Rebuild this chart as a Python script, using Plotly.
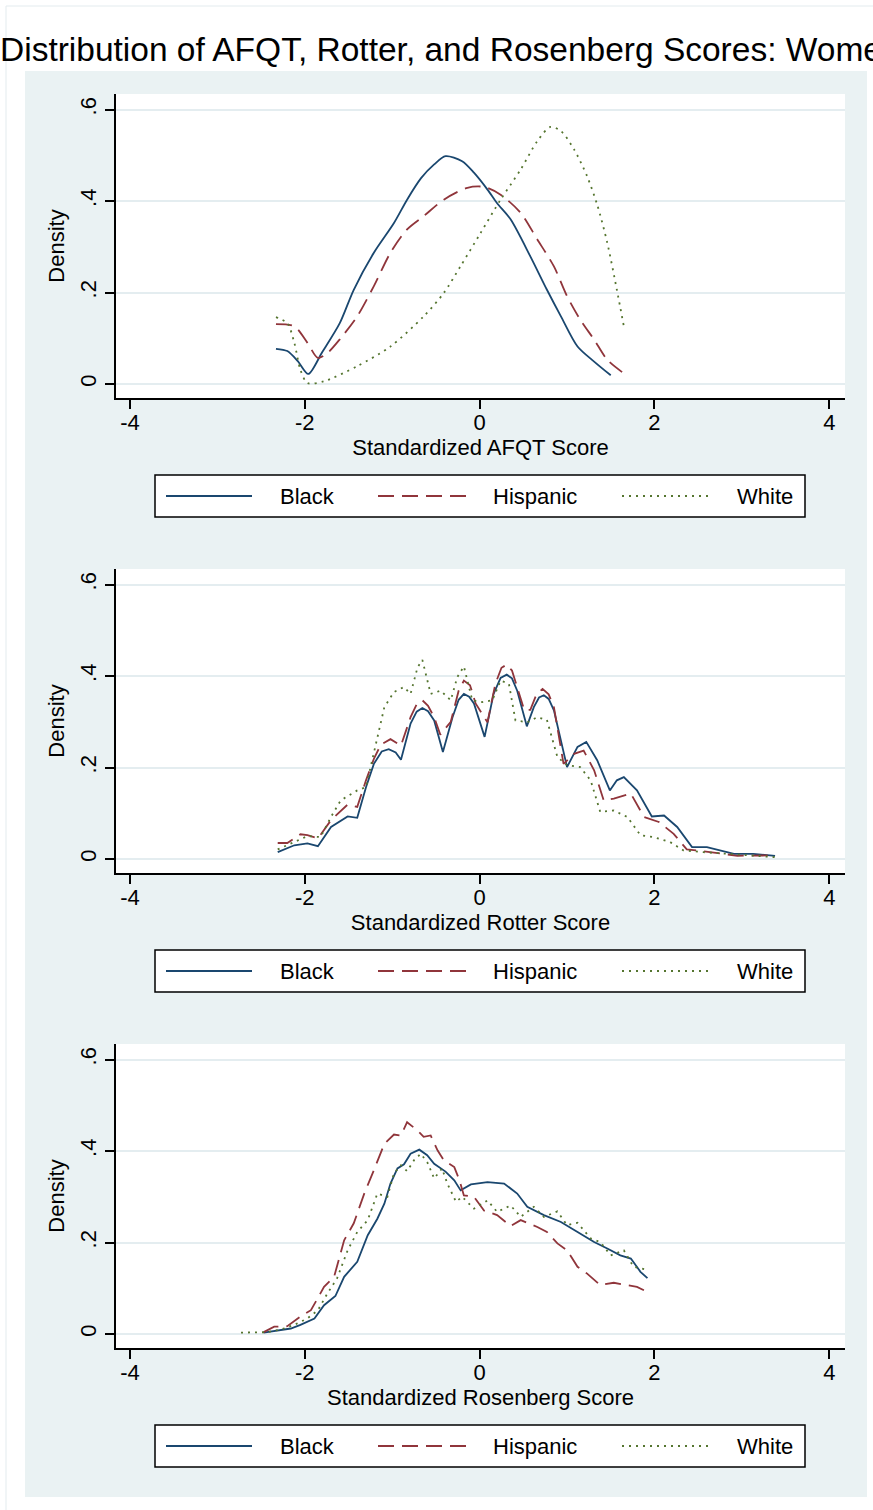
import plotly.graph_objects as go

W, H = 873, 1510

# ---------------- data ----------------
afqt_black_x = [-2.33, -2.2, -2.08, -1.96, -1.8, -1.6, -1.44, -1.21, -0.98, -0.83, -0.67, -0.52, -0.39,
                -0.2, -0.065, 0.09, 0.2, 0.354, 0.58, 0.77, 0.93, 1.12, 1.31, 1.5]
afqt_black_y = [0.077, 0.072, 0.05, 0.022, 0.07, 0.133, 0.206, 0.287, 0.352, 0.403, 0.45, 0.48, 0.498,
                0.487, 0.462, 0.425, 0.395, 0.36, 0.279, 0.206, 0.148, 0.082, 0.049, 0.019]
afqt_hisp_x = [-2.33, -2.12, -1.97, -1.85, -1.74, -1.59, -1.4, -1.21, -1.02, -0.83, -0.64, -0.41, -0.14,
               0.05, 0.24, 0.47, 0.66, 0.85, 1.0, 1.15, 1.31, 1.46, 1.63]
afqt_hisp_y = [0.131, 0.126, 0.09, 0.057, 0.068, 0.1, 0.148, 0.214, 0.287, 0.338, 0.367, 0.403, 0.429,
               0.431, 0.414, 0.374, 0.316, 0.257, 0.192, 0.141, 0.097, 0.053, 0.026]
afqt_white_x = [-2.33, -2.2, -2.12, -2.05, -1.97, -1.78, -1.4, -1.02, -0.64, -0.41, -0.22, 0.01, 0.24,
                0.47, 0.66, 0.81, 0.93, 1.08, 1.23, 1.35, 1.46, 1.57, 1.65]
afqt_white_y = [0.146, 0.133, 0.09, 0.031, 0.002, 0.006, 0.039, 0.082, 0.148, 0.199, 0.257, 0.33, 0.403,
                0.469, 0.531, 0.562, 0.553, 0.513, 0.454, 0.389, 0.309, 0.206, 0.126]

rotter_black_x = [-2.31, -2.12, -1.97, -1.85, -1.70, -1.51, -1.40, -1.30, -1.21, -1.12, -1.04, -0.96,
                  -0.90, -0.79, -0.72, -0.655, -0.59, -0.52, -0.42, -0.31, -0.24, -0.18, -0.12, -0.065,
                  0.057, 0.16, 0.24, 0.31, 0.37, 0.43, 0.54, 0.62, 0.68, 0.735, 0.79, 0.85, 1.0, 1.12,
                  1.22, 1.345, 1.49, 1.57, 1.65, 1.80, 1.97, 2.11, 2.26, 2.43, 2.60, 2.75, 2.91, 3.13,
                  3.38]
rotter_black_y = [0.015, 0.03, 0.034, 0.028, 0.07, 0.093, 0.09, 0.157, 0.208, 0.235, 0.24, 0.233,
                  0.217, 0.296, 0.322, 0.33, 0.323, 0.303, 0.234, 0.31, 0.348, 0.361, 0.355, 0.34,
                  0.267, 0.361, 0.396, 0.403, 0.395, 0.368, 0.29, 0.332, 0.353, 0.358, 0.35, 0.325,
                  0.201, 0.245, 0.256, 0.216, 0.15, 0.172, 0.179, 0.15, 0.093, 0.095, 0.07, 0.026,
                  0.026, 0.019, 0.011, 0.011, 0.007]
rotter_hisp_x = [-2.31, -2.2, -2.05, -1.97, -1.85, -1.70, -1.51, -1.40, -1.30, -1.21, -1.13, -1.02,
                 -0.90, -0.79, -0.72, -0.655, -0.59, -0.52, -0.45, -0.33, -0.24, -0.18, -0.11, -0.046,
                 0.09, 0.18, 0.25, 0.31, 0.37, 0.43, 0.51, 0.58, 0.65, 0.72, 0.79, 0.85, 0.96, 1.08,
                 1.19, 1.31, 1.42, 1.535, 1.73, 1.88, 2.05, 2.22, 2.37, 2.56, 2.75, 2.95, 3.38]
rotter_hisp_y = [0.035, 0.035, 0.054, 0.052, 0.045, 0.085, 0.119, 0.114, 0.172, 0.219, 0.25, 0.262,
                 0.248, 0.31, 0.338, 0.347, 0.335, 0.31, 0.272, 0.30, 0.368, 0.39, 0.38, 0.34,
                 0.299, 0.383, 0.418, 0.425, 0.412, 0.376, 0.326, 0.326, 0.36, 0.372, 0.36, 0.332,
                 0.208, 0.23, 0.237, 0.194, 0.128, 0.132, 0.143, 0.092, 0.081, 0.055, 0.021, 0.017,
                 0.012, 0.007, 0.008]
rotter_white_x = [-2.31, -2.12, -1.97, -1.82, -1.70, -1.59, -1.40, -1.30, -1.21, -1.09, -0.98, -0.865,
                  -0.79, -0.71, -0.655, -0.56, -0.446, -0.33, -0.255, -0.18, -0.084, 0.03, 0.145, 0.24,
                  0.335, 0.41, 0.545, 0.66, 0.77, 0.89, 1.0, 1.15, 1.27, 1.38, 1.535, 1.69, 1.84, 1.99,
                  2.18, 2.33, 2.56, 2.83, 3.13, 3.38]
rotter_white_y = [0.021, 0.037, 0.05, 0.048, 0.092, 0.128, 0.15, 0.157, 0.23, 0.332, 0.365, 0.376,
                  0.361, 0.419, 0.435, 0.361, 0.368, 0.347, 0.398, 0.421, 0.347, 0.343, 0.347, 0.39,
                  0.383, 0.303, 0.299, 0.31, 0.304, 0.223, 0.205, 0.201, 0.172, 0.103, 0.106, 0.092,
                  0.052, 0.048, 0.037, 0.019, 0.015, 0.011, 0.007, 0.004]

rosen_black_x = [-2.47, -2.35, -2.16, -2.05, -1.89, -1.78, -1.65, -1.55, -1.40, -1.28, -1.17, -1.09,
                 -1.02, -0.94, -0.865, -0.79, -0.69, -0.60, -0.52, -0.39, -0.29, -0.217, -0.10, 0.09,
                 0.28, 0.43, 0.545, 0.735, 0.93, 1.12, 1.31, 1.46, 1.61, 1.73, 1.84, 1.92]
rosen_black_y = [0.003, 0.007, 0.012, 0.02, 0.034, 0.063, 0.083, 0.125, 0.158, 0.216, 0.252, 0.285,
                 0.329, 0.362, 0.371, 0.394, 0.403, 0.391, 0.372, 0.355, 0.336, 0.314, 0.327, 0.332,
                 0.329, 0.307, 0.278, 0.26, 0.245, 0.223, 0.201, 0.187, 0.172, 0.165, 0.136, 0.122]
rosen_hisp_x = [-2.47, -2.35, -2.2, -2.05, -1.93, -1.78, -1.665, -1.55, -1.44, -1.32, -1.21, -1.09,
                -0.98, -0.90, -0.83, -0.71, -0.64, -0.56, -0.48, -0.41, -0.29, -0.23, -0.18, -0.065,
                0.05, 0.2, 0.354, 0.47, 0.66, 0.77, 0.89, 1.0, 1.12, 1.23, 1.38, 1.535, 1.65, 1.8, 1.92]
rosen_hisp_y = [0.004, 0.016, 0.017, 0.038, 0.052, 0.103, 0.125, 0.205, 0.242, 0.307, 0.358, 0.416,
                0.436, 0.434, 0.463, 0.445, 0.431, 0.434, 0.401, 0.38, 0.365, 0.336, 0.303, 0.30,
                0.27, 0.26, 0.236, 0.249, 0.234, 0.223, 0.198, 0.183, 0.147, 0.132, 0.107, 0.112,
                0.108, 0.103, 0.092]
rosen_white_x = [-2.73, -2.58, -2.43, -2.27, -2.12, -1.97, -1.85, -1.74, -1.63, -1.51, -1.40, -1.28,
                 -1.17, -1.055, -0.98, -0.90, -0.83, -0.75, -0.674, -0.60, -0.52, -0.43, -0.37, -0.27,
                 -0.2, -0.065, 0.09, 0.2, 0.354, 0.47, 0.62, 0.735, 0.89, 1.0, 1.12, 1.27, 1.38, 1.50,
                 1.65, 1.76, 1.90]
rosen_white_y = [0.003, 0.003, 0.004, 0.01, 0.02, 0.034, 0.052, 0.089, 0.122, 0.183, 0.223, 0.249,
                 0.307, 0.30, 0.351, 0.369, 0.356, 0.38, 0.394, 0.376, 0.34, 0.362, 0.329, 0.289,
                 0.30, 0.274, 0.292, 0.267, 0.281, 0.256, 0.278, 0.256, 0.268, 0.238, 0.243, 0.209,
                 0.201, 0.172, 0.183, 0.147, 0.141]

group_names = ["Black", "Hispanic", "White"]
x_titles = ["Standardized AFQT Score", "Standardized Rotter Score", "Standardized Rosenberg Score"]
x_tickvals = [-4, -2, 0, 2, 4]
x_ticktext = ["-4", "-2", "0", "2", "4"]
y_tickvals = [0, 0.2, 0.4, 0.6]
y_ticktext = ["0", ".2", ".4", ".6"]
main_title = "Distribution of AFQT, Rotter, and Rosenberg Scores: Women"

panel_data = [
    [(afqt_black_x, afqt_black_y), (afqt_hisp_x, afqt_hisp_y), (afqt_white_x, afqt_white_y)],
    [(rotter_black_x, rotter_black_y), (rotter_hisp_x, rotter_hisp_y), (rotter_white_x, rotter_white_y)],
    [(rosen_black_x, rosen_black_y), (rosen_hisp_x, rosen_hisp_y), (rosen_white_x, rosen_white_y)],
]

# ---------------- style ----------------
FONT = "Arial, Liberation Sans, Helvetica, sans-serif"
COLORS = ["#1A476F", "#90353B", "#55752F"]
DASHES = ["solid", "16px,8px", "2px,5px"]
WIDTHS = [1.8, 1.8, 1.8]
PANEL_SHAPE = [("spline", 0.8), ("linear", 0), ("linear", 0)]
BG_BLUE = "#EAF2F3"
GRID = "#E4EDF0"


def fx(px):
    return px / W


def fy(py):
    return 1 - py / H


PLOT_L, PLOT_R = 116, 845
PANEL_TOP = [94, 569, 1044]
PANEL_BOT = [398, 873, 1348]

fig = go.Figure()
shapes = []
annotations = []

# outer faint frame and bluish graph region
shapes.append(dict(type="rect", xref="paper", yref="paper", x0=fx(6), x1=fx(W + 10), y0=fy(6), y1=fy(H + 10),
                   line=dict(color="#E3EBEE", width=1), fillcolor="white", layer="below"))
shapes.append(dict(type="rect", xref="paper", yref="paper", x0=fx(25), x1=fx(867), y0=fy(71), y1=fy(1497),
                   line=dict(width=0), fillcolor=BG_BLUE, layer="below"))

for i in range(3):
    n = "" if i == 0 else str(i + 1)
    xa = "x" + n
    ya = "y" + n
    shape, smooth = PANEL_SHAPE[i]
    for g in range(3):
        xs, ys = panel_data[i][g]
        line = dict(color=COLORS[g], width=WIDTHS[g], dash=DASHES[g], shape=shape)
        if shape == "spline":
            line["smoothing"] = smooth
        fig.add_trace(go.Scatter(x=xs, y=ys, mode="lines", name=group_names[g], xaxis=xa, yaxis=ya,
                                 showlegend=False, line=line))
    top, bot = PANEL_TOP[i], PANEL_BOT[i]
    # white plot region
    shapes.append(dict(type="rect", xref="paper", yref="paper", x0=fx(PLOT_L), x1=fx(PLOT_R),
                       y0=fy(bot), y1=fy(top), line=dict(width=0), fillcolor="white", layer="below"))
    fig.update_layout(**{
        "xaxis" + n: dict(domain=[fx(PLOT_L), fx(PLOT_R)], anchor=ya, range=[-4.16, 4.18],
                          tickmode="array", tickvals=x_tickvals, ticktext=x_ticktext,
                          showgrid=False, zeroline=False, showline=True, linecolor="black", linewidth=1.5,
                          ticks="outside", ticklen=9, tickwidth=1.5, tickcolor="black",
                          ticklabelstandoff=-5,
                          tickfont=dict(family=FONT, size=22, color="black"),
                          title=dict(text=x_titles[i], font=dict(family=FONT, size=22, color="black"),
                                     standoff=4)),
        "yaxis" + n: dict(domain=[fy(bot), fy(top)], anchor=xa, range=[-0.0306, 0.634],
                          tickmode="array", tickvals=y_tickvals, ticktext=y_ticktext, tickangle=-90,
                          showgrid=True, gridcolor=GRID, gridwidth=1.5, zeroline=False,
                          showline=True, linecolor="black", linewidth=1.5,
                          ticks="outside", ticklen=9, tickwidth=1.5, tickcolor="black",
                          tickfont=dict(family=FONT, size=22, color="black"),
                          title=dict(text="Density", font=dict(family=FONT, size=22, color="black"),
                                     standoff=6)),
    })
    # legend box (drawn manually, Stata style)
    ltop = bot + 77
    lbot = ltop + 42
    lmid = (ltop + lbot) / 2
    shapes.append(dict(type="rect", xref="paper", yref="paper", x0=fx(155), x1=fx(805), y0=fy(lbot), y1=fy(ltop),
                       line=dict(color="black", width=1.5), fillcolor="white", layer="above"))
    samples = [(166, 252), (378, 466), (622, 710)]
    label_x = [278, 491, 735]
    for g in range(3):
        shapes.append(dict(type="line", xref="paper", yref="paper", x0=fx(samples[g][0]), x1=fx(samples[g][1]),
                           y0=fy(lmid), y1=fy(lmid),
                           line=dict(color=COLORS[g], width=WIDTHS[g], dash=DASHES[g]), layer="above"))
        annotations.append(dict(text=group_names[g], xref="paper", yref="paper", x=fx(label_x[g]), y=fy(lmid),
                                xanchor="left", yanchor="middle", showarrow=False,
                                font=dict(family=FONT, size=22, color="black")))

fig.update_layout(
    width=W, height=H,
    margin=dict(l=0, r=0, t=0, b=0),
    paper_bgcolor="white", plot_bgcolor="white",
    showlegend=False,
    title=dict(text=main_title, x=0, xanchor="left", xref="paper", y=fy(49), yanchor="middle", yref="paper",
               font=dict(family=FONT, size=33.5, color="black")),
    shapes=shapes,
    annotations=annotations,
)

fig.write_html("out.html")
